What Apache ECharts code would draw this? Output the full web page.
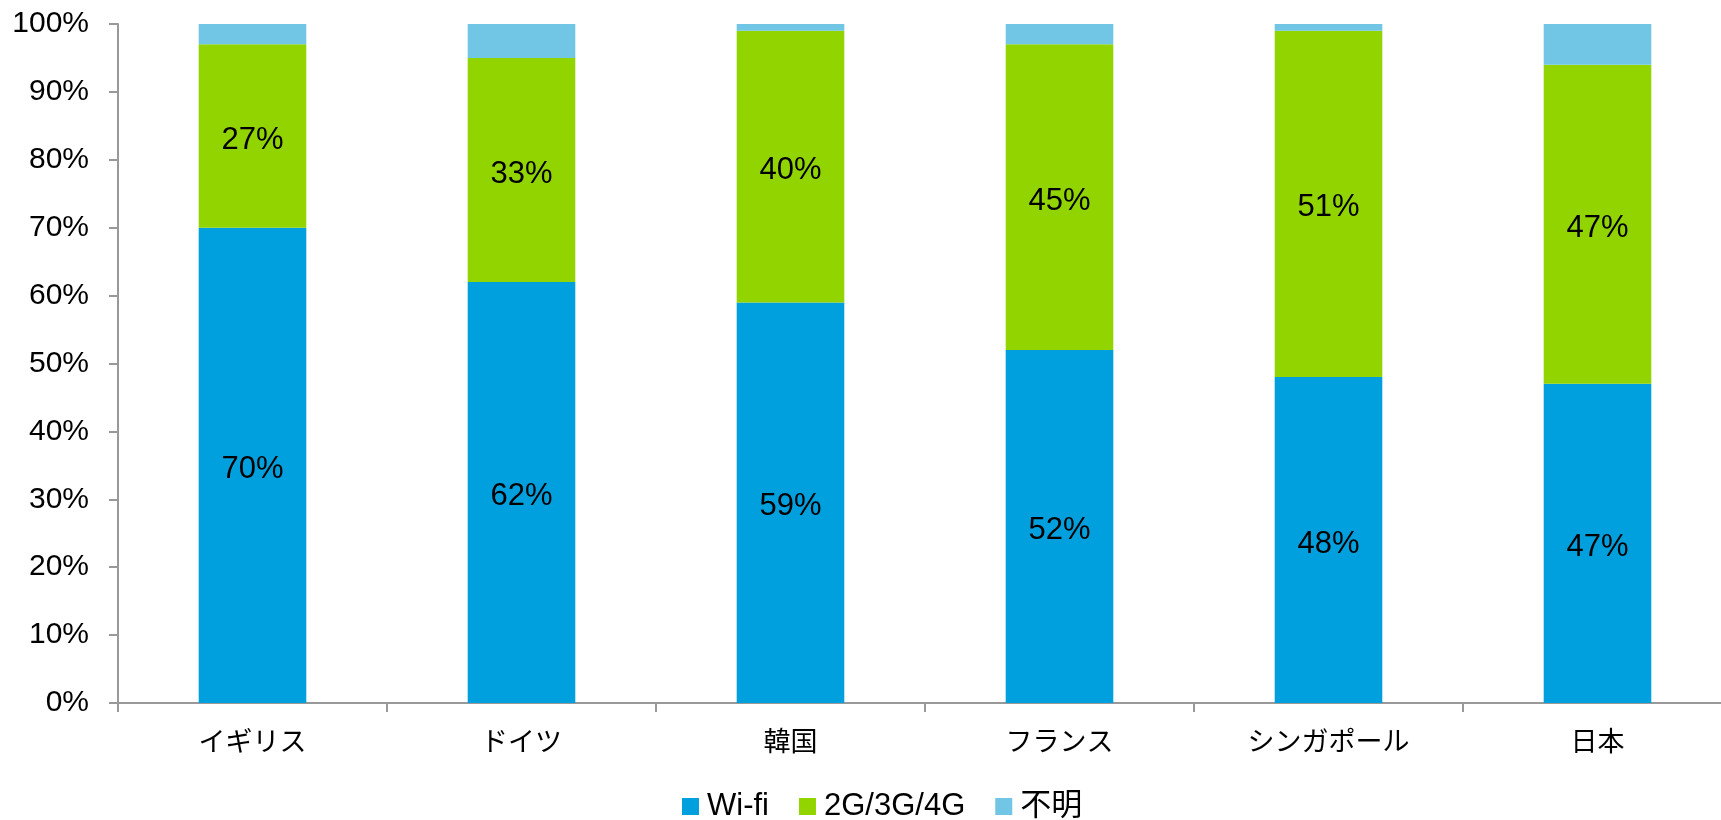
<!DOCTYPE html>
<html>
<head>
<meta charset="utf-8">
<script src="https://cdn.jsdelivr.net/npm/echarts@6/dist/echarts.min.js"></script>
<style>
  html, body { margin: 0; padding: 0; background: #fff; overflow: hidden; }
  /* the plot area runs slightly past the right edge of the view */
  #chart { width: 1740px; height: 820px; }
</style>
</head>
<body>
<div id="chart"></div>
<script>
// Connection type share by country (percent)
const countries = ['イギリス', 'ドイツ', '韓国', 'フランス', 'シンガポール', '日本'];
const wifi      = [70, 62, 59, 52, 48, 47];
const mobile    = [27, 33, 40, 45, 51, 47];
const unknown   = [3, 5, 1, 3, 1, 6];
const seriesNames = ['Wi-fi', '2G/3G/4G', '不明'];
const colors = ['#00a0de', '#92d400', '#71c6e6'];

const FONT = "'Liberation Sans', Arial, 'Noto Sans CJK JP', sans-serif";
const axisGray = '#999999';

const chart = echarts.init(document.getElementById('chart'), null, { renderer: 'canvas' });

function barSeries(name, data, color, showLabel) {
  return {
    name: name,
    type: 'bar',
    stack: 'total',
    data: data,
    barWidth: '40%',
    itemStyle: { color: color },
    label: {
      show: showLabel,
      position: 'inside',
      offset: [0, 4],
      formatter: '{c}%',
      color: '#000',
      fontFamily: FONT,
      fontSize: 31
    },
    emphasis: { disabled: true }
  };
}

chart.setOption({
  animation: false,
  color: colors,
  textStyle: { fontFamily: FONT },
  grid: { left: 118, top: 24, width: 1614, height: 679, containLabel: false },
  legend: {
    data: seriesNames,
    top: 791,
    left: 682,
    padding: 0,
    itemWidth: 17,
    itemHeight: 17,
    itemGap: 30,
    icon: 'rect',
    textStyle: { fontFamily: FONT, fontSize: 31, color: '#000', padding: [0, 0, 0, 3] }
  },
  xAxis: {
    type: 'category',
    data: countries,
    axisLine: { lineStyle: { color: axisGray, width: 2 } },
    axisTick: { show: true, length: 9, lineStyle: { color: axisGray, width: 2 } },
    axisLabel: {
      margin: 24,
      color: '#000',
      fontSize: 27,
      fontFamily: "'Noto Sans CJK JP', sans-serif"
    },
    splitLine: { show: false }
  },
  yAxis: {
    type: 'value',
    min: 0,
    max: 100,
    interval: 10,
    axisLine: { show: true, lineStyle: { color: axisGray, width: 2 } },
    axisTick: { show: true, length: 9, lineStyle: { color: axisGray, width: 2 } },
    axisLabel: {
      formatter: '{value}%',
      margin: 29,
      color: '#000',
      fontSize: 30,
      fontFamily: FONT
    },
    splitLine: { show: false }
  },
  series: [
    barSeries(seriesNames[0], wifi, colors[0], true),
    barSeries(seriesNames[1], mobile, colors[1], true),
    barSeries(seriesNames[2], unknown, colors[2], false)
  ]
});
</script>
</body>
</html>
